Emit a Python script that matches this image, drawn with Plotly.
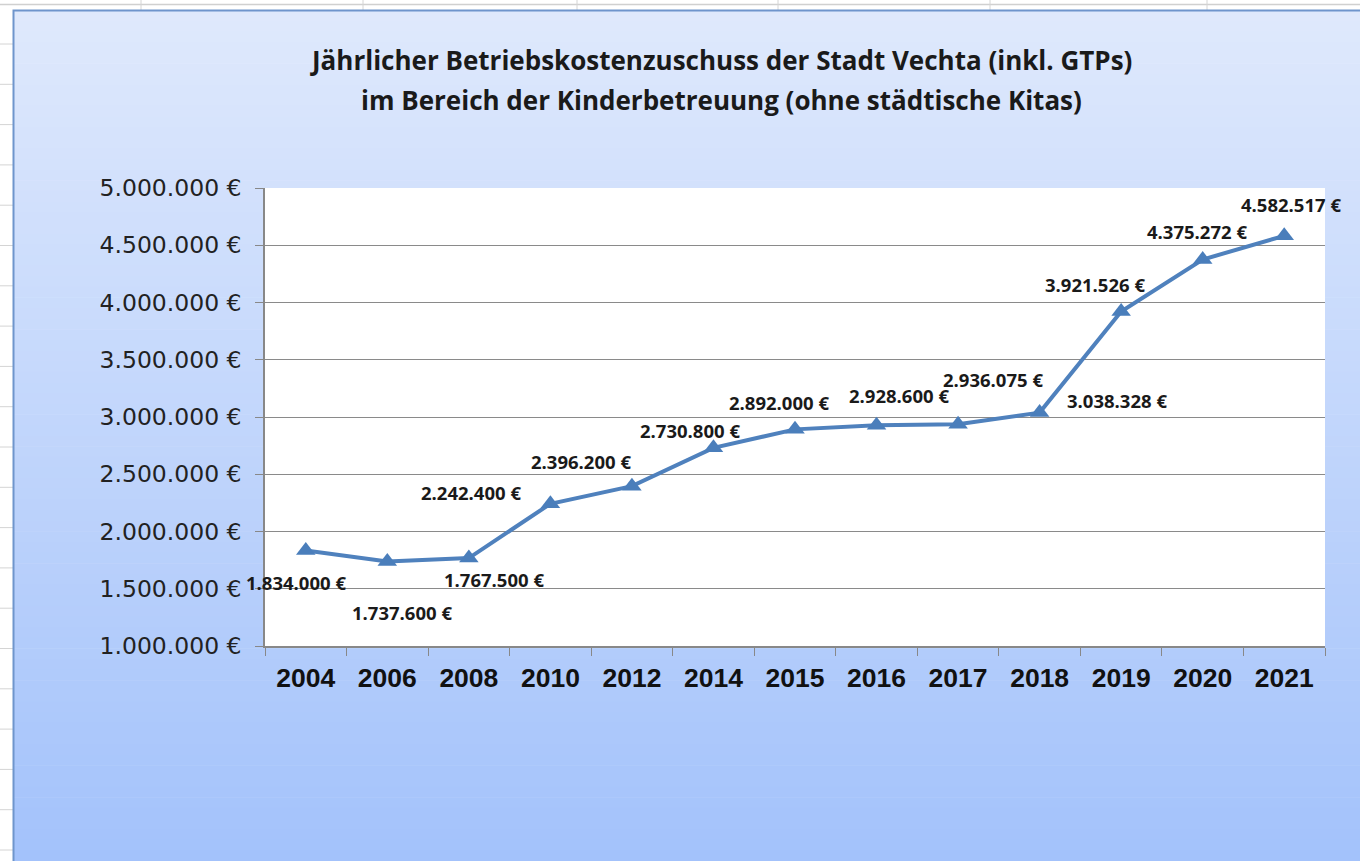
import plotly.graph_objects as go

# ---- data ----
years = ["2004", "2006", "2008", "2010", "2012", "2014", "2015", "2016", "2017", "2018", "2019", "2020", "2021"]
zuschuss = [1834000, 1737600, 1767500, 2242400, 2396200, 2730800, 2892000, 2928600, 2936075, 3038328, 3921526, 4375272, 4582517]
y_tickvals = [1000000, 1500000, 2000000, 2500000, 3000000, 3500000, 4000000, 4500000, 5000000]
title_lines = ["Jährlicher Betriebskostenzuschuss der Stadt Vechta (inkl. GTPs)",
               "im Bereich der Kinderbetreuung (ohne städtische Kitas)"]

def eur(v):
    return f"{v:,.0f}".replace(",", ".") + " €"

y_ticktext = [eur(v) for v in y_tickvals]
labels = [eur(v) for v in zuschuss]

# label offsets in screen pixels (dx, dy; dy down-positive) - styling only
label_offsets = [(-10, 32), (15, 51), (25, 21), (-79, -11), (-51, -25), (-23, -17), (-16, -27),
                 (22, -30), (35, -45), (77, -12), (-26, -27), (-6, -28), (7, -31)]

# ---- layout geometry (pixels) ----
W, H = 1360, 861
L, R, T, B = 265, 1325, 188, 646
PW, PH = R - L, B - T

def px(x):
    return (x - L) / PW

def py(y):
    return (B - y) / PH

shapes = []
# spreadsheet backdrop lines
shapes.append(dict(type="line", xref="paper", yref="paper", x0=px(0), x1=px(W), y0=py(4.5), y1=py(4.5),
                   line=dict(color="#d0d0d0", width=1.5), layer="below"))
for vx in [141, 363, 577, 778, 990, 1207]:
    shapes.append(dict(type="line", xref="paper", yref="paper", x0=px(vx), x1=px(vx), y0=py(0), y1=py(10),
                       line=dict(color="#d4d4d4", width=1), layer="below"))
yy = 44
while yy < H:
    shapes.append(dict(type="line", xref="paper", yref="paper", x0=px(0), x1=px(13), y0=py(yy), y1=py(yy),
                       line=dict(color="#d4d4d4", width=1), layer="below"))
    yy += 40.3

# gradient chart area
top_c = (223, 233, 252)
bot_c = (163, 194, 251)
y_start, y_end = 10, H
n = 80
step = (y_end - y_start) / n
for i in range(n):
    t = (i + 0.5) / n
    c = tuple(round(top_c[k] + (bot_c[k] - top_c[k]) * t) for k in range(3))
    y0p = y_start + i * step
    shapes.append(dict(type="rect", xref="paper", yref="paper", x0=px(13), x1=px(W + 5),
                       y0=py(y0p), y1=py(y0p + step + 0.6),
                       fillcolor="rgb(%d,%d,%d)" % c, line=dict(width=0), layer="below"))
# chart frame
shapes.append(dict(type="rect", xref="paper", yref="paper", x0=px(13.5), x1=px(W + 10),
                   y0=py(10.5), y1=py(H + 10), fillcolor="rgba(0,0,0,0)",
                   line=dict(color="#6f95cc", width=2), layer="below"))
# plot area background
shapes.append(dict(type="rect", xref="paper", yref="paper", x0=0, x1=1, y0=0, y1=1,
                   fillcolor="white", line=dict(width=0), layer="below"))

fig = go.Figure()
fig.add_trace(go.Scatter(
    x=years, y=zuschuss, mode="lines+markers",
    line=dict(color="#4f81bd", width=4),
    marker=dict(symbol="triangle-up", size=17, color="#4a7ebb"),
    hoverinfo="x+y", showlegend=False,
))

annotations = []
for i, (v, lab, (dx, dy)) in enumerate(zip(zuschuss, labels, label_offsets)):
    annotations.append(dict(x=i, y=v, xref="x", yref="y", text="<b>" + lab + "</b>", showarrow=False,
                            xshift=dx, yshift=-dy,
                            font=dict(family="Open Sans", size=18.5, color="#1a1a1a"),
                            xanchor="center", yanchor="middle"))
for i, line in enumerate(title_lines):
    annotations.append(dict(x=px(721), y=py(60 + 40 * i), xref="paper", yref="paper",
                            text="<b>" + line + "</b>", showarrow=False,
                            font=dict(family="Open Sans", size=26, color="#1a1a1a"),
                            xanchor="center", yanchor="middle"))

fig.update_layout(
    width=W, height=H,
    margin=dict(l=L, r=W - R, t=T, b=H - B, pad=0),
    paper_bgcolor="white",
    plot_bgcolor="white",
    shapes=shapes,
    annotations=annotations,
    xaxis=dict(
        type="category", range=[-0.5, len(years) - 0.5], tickson="boundaries",
        ticks="outside", ticklen=8, tickcolor="#888888",
        showline=True, linecolor="#888888", linewidth=1.5, showgrid=False,
        tickfont=dict(family="Liberation Sans", size=26.5, color="#111111"),
        tickprefix="<b>", ticksuffix="</b>", tickangle=0, automargin=False,
        ticklabelstandoff=7,
    ),
    yaxis=dict(
        range=[1000000, 5000000], tickvals=y_tickvals, ticktext=y_ticktext,
        ticks="outside", ticklen=8, tickcolor="#888888",
        showline=True, linecolor="#888888", linewidth=1.5,
        showgrid=True, gridcolor="#8a8a8a", gridwidth=1.2,
        tickfont=dict(family="DejaVu Sans", size=23.5, color="#222222"),
        zeroline=False, automargin=False, ticklabelstandoff=9,
    ),
)

fig.write_html("out.html", config={"displayModeBar": False},
               post_script="document.body.style.margin='0';document.body.style.padding='0';document.body.style.overflow='hidden';")
